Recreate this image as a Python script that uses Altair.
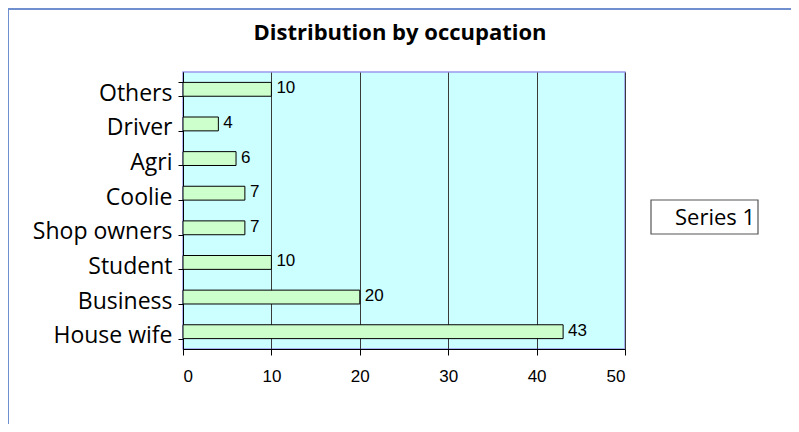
import altair as alt
import pandas as pd

title_text = ["Distribution by occupation"]
categories = ["Others", "Driver", "Agri", "Coolie", "Shop owners", "Student", "Business", "House wife"]
values = [10, 4, 6, 7, 7, 10, 20, 43]
series = ["Series 1"]

df = pd.DataFrame({"occupation": categories, "count": values})
legend_df = pd.DataFrame({"series": series})
title_df = pd.DataFrame({"t": title_text})

W, H = 442, 277

y_enc = alt.Y("occupation:N", sort=categories, title=None,
              scale=alt.Scale(paddingInner=0.6, paddingOuter=0.3),
              axis=alt.Axis(tickBand="extent", labelFont="Open Sans", labelFontSize=23,
                            labelColor="#000", domainColor="#000", tickColor="#000",
                            tickSize=5, labelPadding=6, labelOffset=4, grid=False))
x_enc = alt.X("count:Q", title=None, scale=alt.Scale(domain=[0, 50]),
              axis=alt.Axis(values=[0, 10, 20, 30, 40, 50], labelFont="Liberation Sans",
                            labelFontSize=17, labelColor="#000", domainColor="#000",
                            tickColor="#000", tickSize=6, labelPadding=13,
                            grid=True, gridColor="#3a3a3a", gridWidth=1))

bars = alt.Chart(df).mark_bar(stroke="#000", strokeWidth=1, fill="#ccffcc").encode(
    x=x_enc, y=y_enc
)

labels = alt.Chart(df).mark_text(align="left", baseline="middle", dx=5, dy=-1,
                                 font="Liberation Sans", fontSize=17, color="#000").encode(
    x="count:Q", y=alt.Y("occupation:N", sort=categories), text="count:Q"
)

title_mark = alt.Chart(title_df).mark_text(align="center", baseline="middle",
                                           font="Open Sans", fontSize=22, fontWeight="bold",
                                           color="#000").encode(
    x=alt.value(217), y=alt.value(-39), text="t:N"
)

legend_box = alt.Chart(legend_df).mark_rect(fill="#fff", stroke="#555", strokeWidth=1.2).encode(
    x=alt.value(468), x2=alt.value(575), y=alt.value(128), y2=alt.value(162)
)
legend_text = alt.Chart(legend_df).mark_text(align="left", baseline="middle",
                                             font="Open Sans", fontSize=22, color="#000").encode(
    x=alt.value(492), y=alt.value(146), text="series:N"
)

frame = alt.Chart(pd.DataFrame({"a": [0]})).mark_rule(color="#6f8fcf", strokeWidth=2).encode(
    x=alt.value(-175), x2=alt.value(620), y=alt.value(-63)
)
frame2 = alt.Chart(pd.DataFrame({"a": [0]})).mark_rule(color="#6f8fcf", strokeWidth=2).encode(
    x=alt.value(-175), y=alt.value(-63), y2=alt.value(360)
)

chart = alt.layer(bars, labels, title_mark, legend_box, legend_text, frame, frame2).properties(
    width=W, height=H,
    background="#fff",
    padding={"left": 175, "top": 64, "right": 166, "bottom": 75},
    autosize=alt.AutoSizeParams(type="none"),
).configure_view(fill="#ccffff", stroke="#9999ee", strokeWidth=1.5)

chart.save("out.html", embed_options={"renderer": "svg", "actions": False})
